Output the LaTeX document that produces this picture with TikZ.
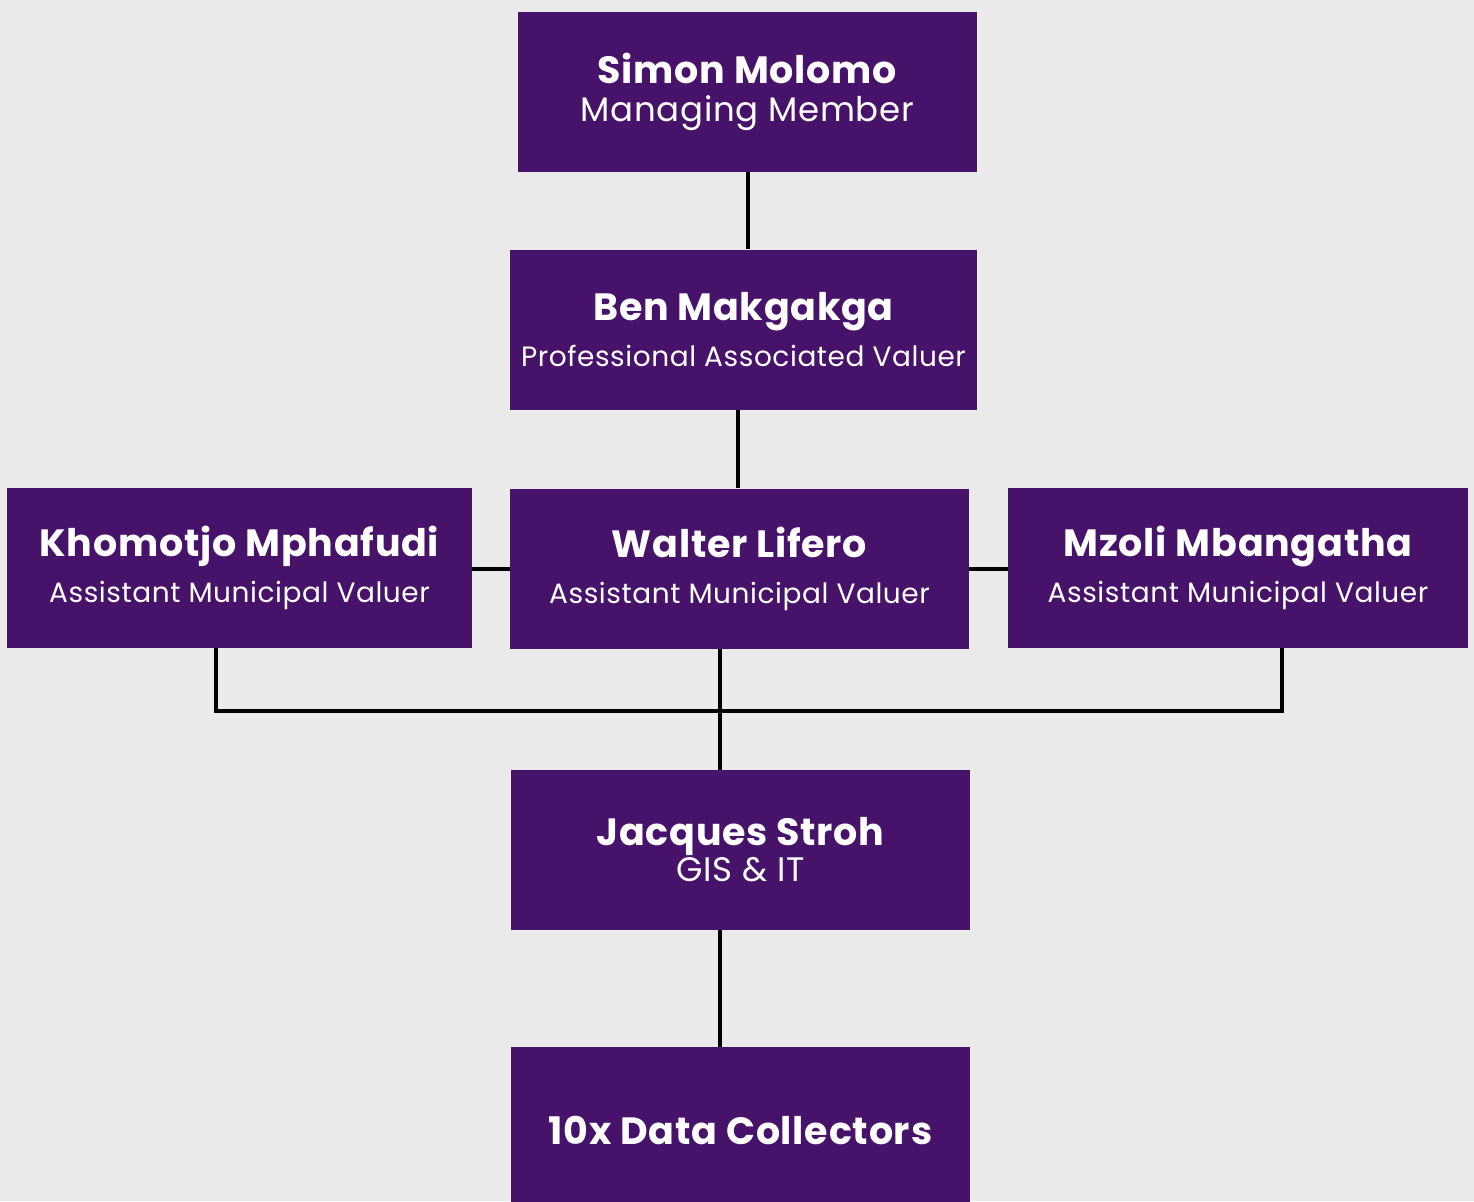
\documentclass[tikz,border=0pt]{standalone}
\usepackage{fontspec}
\setmainfont{Poppins}
\usepackage{xcolor}
\usetikzlibrary{positioning}

\definecolor{boxpurple}{HTML}{47126A}
\definecolor{bggray}{HTML}{EAEAEA}
\newcommand{\pname}[1]{{\fontsize{19}{20}\selectfont\bfseries\addfontfeatures{LetterSpace=2}#1}}
\newcommand{\prole}[1]{{\fontsize{17}{20}\selectfont\addfontfeatures{LetterSpace=2}#1}}

\begin{document}
\begin{tikzpicture}[x=0.5pt,y=-0.5pt,
    person/.style={fill=boxpurple,text=white,minimum width=229.5pt,minimum height=80pt,
                   inner sep=0pt,align=center,font=\fontsize{14}{20}\selectfont\addfontfeatures{LetterSpace=2}},
    link/.style={line width=2pt,black}]
    \fill[bggray] (0,0) rectangle (1474,1201);
    \useasboundingbox (0,0) rectangle (1474,1201);

    \node[person] (simon) at (747.5,92) {\pname{Simon Molomo}\\[-1pt] \prole{Managing Member}};
    \node[person,minimum width=233.5pt] (ben) at (743.5,329.5) {\pname{Ben Makgakga}\\[3pt] Professional Associated Valuer};
    \node[person,minimum width=232.5pt] (khom) at (239.5,567.5) {\pname{Khomotjo Mphafudi}\\[3pt] Assistant Municipal Valuer};
    \node[person] (walter) at (739.5,568.5) {\pname{Walter Lifero}\\[3pt] Assistant Municipal Valuer};
    \node[person,minimum width=230pt] (mzoli) at (1238,568) {\pname{Mzoli Mbangatha}\\[3pt] Assistant Municipal Valuer};
    \node[person] (jacques) at (740.5,850) {\pname{Jacques Stroh}\\[-2pt] \prole{GIS \& IT}};
    \node[person,minimum height=83pt] (data) at (740.5,1130) {\pname{10x Data Collectors}};

    % bus between the valuers and GIS
    \coordinate (busL) at (216,711);
    \coordinate (busM) at (720,711);
    \coordinate (busR) at (1282,711);

    \draw[link] (simon.south) -- (simon.south |- ben.north);
    \draw[link] ([xshift=-3pt]ben.south) -- ([xshift=-3pt]ben.south |- walter.north);
    \draw[link] (khom.east |- walter.west) -- (walter.west);
    \draw[link] (walter.east) -- (mzoli.west |- walter.east);
    \draw[link] (khom.south -| busL) -- (busL) -- (busR) -- (mzoli.south -| busR);
    \draw[link] (walter.south -| busM) -- (jacques.north -| busM);
    \draw[link] (jacques.south -| busM) -- (data.north -| busM);
\end{tikzpicture}
\end{document}
